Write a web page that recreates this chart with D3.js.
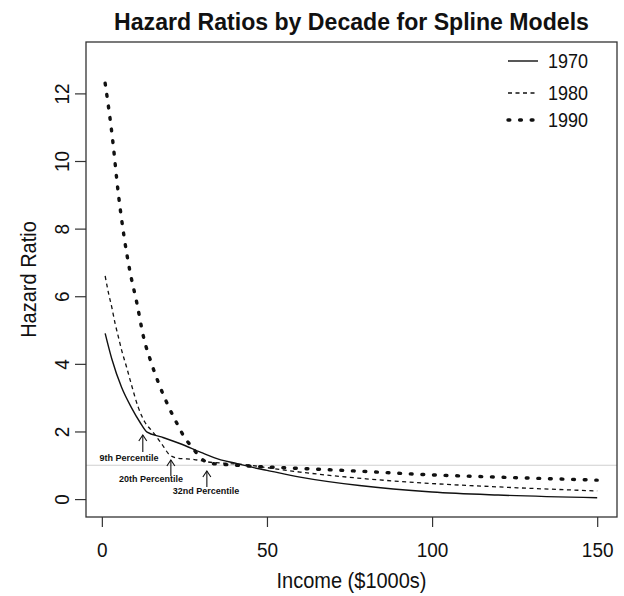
<!DOCTYPE html>
<html><head><meta charset="utf-8">
<script src="https://cdn.jsdelivr.net/npm/d3@7"></script>
<style>body{margin:0;background:#fff}svg{display:block}text{font-family:"Liberation Sans",Arial,sans-serif;fill:#111}</style>
</head><body><svg id="c" width="624" height="596"></svg>
<script>
const title = "Hazard Ratios by Decade for Spline Models";
const xLabel = "Income ($1000s)";
const yLabel = "Hazard Ratio";
const xTicks = [0, 50, 100, 150];
const yTicks = [0, 2, 4, 6, 8, 10, 12];
const seriesNames = ["1970", "1980", "1990"];
const income1970 = [1, 3, 6, 9, 11.5, 13.7, 18, 24, 30, 36, 41, 46, 50, 60, 78, 100, 120, 150];
const hr1970 =     [4.9, 4.15, 3.3, 2.7, 2.28, 1.98, 1.84, 1.63, 1.38, 1.16, 1.05, 0.93, 0.85, 0.65, 0.4, 0.21, 0.12, 0.04];
const income1980 = [1, 2, 3, 4, 5, 6, 7.5, 9, 11, 13, 15.5, 18, 20.6, 23, 28, 32, 39, 45, 50, 60, 80, 100, 120, 150];
const hr1980 =     [6.6, 6.1, 5.68, 5.2, 4.8, 4.4, 3.9, 3.37, 2.72, 2.28, 1.98, 1.65, 1.3, 1.21, 1.17, 1.1, 1.05, 1.0, 0.93, 0.8, 0.6, 0.46, 0.36, 0.24];
const income1990 = [1, 3.3, 4.8, 6.7, 8.5, 10.6, 12.7, 14.8, 17.3, 20, 23, 25, 27.3, 29.7, 32.7, 36.4, 46, 57, 77, 99, 120, 150];
const hr1990 =     [12.3, 10.6, 9.2, 7.78, 6.74, 5.8, 4.76, 4.08, 3.4, 2.78, 2.19, 1.83, 1.54, 1.24, 1.06, 1.03, 0.97, 0.92, 0.83, 0.72, 0.65, 0.56];
const refLine = 1;
const annotations = ["9th Percentile", "20th Percentile", "32nd Percentile"];
const annotX = [12.4, 20.9, 31.8];

const svg = d3.select("#c");
const L = 86, T = 42, R = 617, B = 517;
const x = d3.scaleLinear().domain([-4.8, 156]).range([L, R]);
const y = d3.scaleLinear().domain([-0.53, 13.52]).range([B, T]);
const FONT = '"Liberation Sans",Arial,sans-serif';

// reference line
svg.append("line").attr("x1", L).attr("x2", R).attr("y1", y(refLine)).attr("y2", y(refLine))
  .attr("stroke", "#cfcfcf").attr("stroke-width", 1.2);

const styles = [
  {w: 1.4, dash: null, cap: "butt"},
  {w: 1.3, dash: "4,3.5", cap: "butt"},
  {w: 3.4, dash: "1.8,9.8", cap: "round"}
];
const data = [
  d3.zip(income1970, hr1970),
  d3.zip(income1980, hr1980),
  d3.zip(income1990, hr1990)
];
const line = d3.line().x(d => x(d[0])).y(d => y(d[1])).curve(d3.curveMonotoneX);
data.forEach((d, i) => {
  svg.append("path").attr("d", line(d)).attr("fill", "none").attr("stroke", "#111")
    .attr("stroke-width", styles[i].w).attr("stroke-dasharray", styles[i].dash)
    .attr("stroke-linecap", styles[i].cap);
});

// axes
const xa = svg.append("g").attr("transform", `translate(0,${B})`)
  .call(d3.axisBottom(x).tickValues(xTicks).tickSize(10).tickPadding(14).tickSizeOuter(0));
xa.select(".domain").remove();
xa.selectAll("text").attr("font-size", 19).style("font-family", FONT).attr("fill", "#111")
  .attr("y", null).attr("dy", null).attr("dominant-baseline", "central")
  .attr("transform", "translate(0,33) scale(1,1.1)");
xa.selectAll("line").attr("stroke", "#333").attr("stroke-width", 1.2);

const ya = svg.append("g").attr("transform", `translate(${L},0)`)
  .call(d3.axisLeft(y).tickValues(yTicks).tickSize(11).tickSizeOuter(0));
ya.select(".domain").remove();
ya.selectAll("line").attr("stroke", "#333").attr("stroke-width", 1.2);
ya.selectAll("text").attr("font-size", 19).style("font-family", FONT).attr("fill", "#111")
  .attr("x", null).attr("dy", null).attr("text-anchor", "middle").attr("dominant-baseline", "central")
  .attr("transform", "translate(-24,0) rotate(-90) scale(1,1.1)");

// box
svg.append("rect").attr("x", L).attr("y", T).attr("width", R - L).attr("height", B - T)
  .attr("fill", "none").attr("stroke", "#333").attr("stroke-width", 1.3);

// annotations
const annot = [
  {tip: 435, bot: 452, tx: 129, ty: 458},
  {tip: 460, bot: 476, tx: 151, ty: 479},
  {tip: 471, bot: 487, tx: 206, ty: 491}
];
annotations.forEach((t, i) => {
  const ax = x(annotX[i]);
  const a = annot[i];
  svg.append("line").attr("x1", ax).attr("x2", ax).attr("y1", a.tip).attr("y2", a.bot).attr("stroke", "#111").attr("stroke-width", 1.1);
  svg.append("path").attr("d", `M${ax-4},${a.tip+6}L${ax},${a.tip}L${ax+4},${a.tip+6}`).attr("fill", "none").attr("stroke", "#111").attr("stroke-width", 1.1);
  svg.append("text").attr("x", a.tx).attr("y", a.ty).attr("text-anchor", "middle").attr("dominant-baseline", "central")
    .attr("font-size", 9).attr("font-weight", "bold").text(t);
});

// legend
const legY = [61, 93, 120];
const legDash = [null, "4,3.5", "1.8,9.8"];
seriesNames.forEach((n, i) => {
  svg.append("line").attr("x1", 508).attr("x2", 538).attr("y1", legY[i]).attr("y2", legY[i])
    .attr("stroke", "#111").attr("stroke-width", styles[i].w).attr("stroke-dasharray", legDash[i])
    .attr("stroke-linecap", styles[i].cap);
  svg.append("text").attr("transform", `translate(548,${legY[i]}) scale(1,1.1)`).attr("dominant-baseline", "central")
    .attr("font-size", 18).text(n);
});

// titles
const tt = svg.append("text").attr("x", (L + R) / 2).attr("y", 22).attr("text-anchor", "middle").attr("dominant-baseline", "central")
  .attr("font-weight", "bold").attr("font-size", 20).text(title);
const tw = tt.node().getComputedTextLength();
tt.attr("font-size", 20 * 475 / tw);
svg.append("text").attr("transform", `translate(${(L + R) / 2},580) scale(1,1.1)`).attr("text-anchor", "middle").attr("dominant-baseline", "central")
  .attr("font-size", 20).text(xLabel);
svg.append("text").attr("transform", `translate(28,${(T + B) / 2}) rotate(-90) scale(1,1.1)`).attr("text-anchor", "middle").attr("dominant-baseline", "central")
  .attr("font-size", 20).text(yLabel);
</script></body></html>
